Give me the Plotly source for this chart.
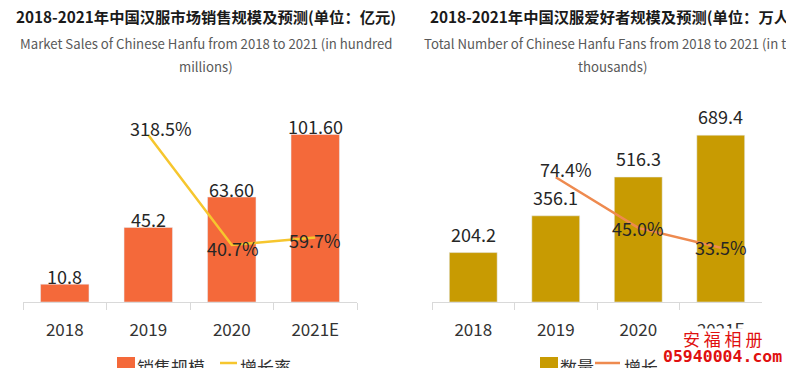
import plotly.graph_objects as go

# ---------------- data ----------------
years = ["2018", "2019", "2020", "2021E"]
sales = [10.8, 45.2, 63.60, 101.60]
sales_labels = ["10.8", "45.2", "63.60", "101.60"]
sales_growth_years = ["2019", "2020", "2021E"]
sales_growth = [318.5, 40.7, 59.7]
sales_growth_labels = ["318.5%", "40.7%", "59.7%"]

fans = [204.2, 356.1, 516.3, 689.4]
fans_labels = ["204.2", "356.1", "516.3", "689.4"]
fans_growth_years = ["2019", "2020", "2021E"]
fans_growth = [74.4, 45.0, 33.5]
fans_growth_labels = ["74.4%", "45.0%", "33.5%"]

left_title = "2018-2021年中国汉服市场销售规模及预测(单位：亿元)"
left_sub1 = "Market Sales of Chinese Hanfu from 2018 to 2021 (in hundred"
left_sub2 = "millions)"
right_title = "2018-2021年中国汉服爱好者规模及预测(单位：万人)"
right_sub1 = "Total Number of Chinese Hanfu Fans from 2018 to 2021 (in ten"
right_sub2 = "thousands)"
left_legend = ["销售规模", "增长率"]
right_legend = ["数量", "增长率"]

# ---------------- style ----------------
W, H = 786, 368
FONT = "Noto Sans CJK SC"
C_BAR_L = "#F4693A"
C_LINE_L = "#F6C62E"
C_BAR_R = "#C89B02"
C_LINE_R = "#EE8A4F"
C_TXT = "#262626"
AX = "#D9D9D9"

def px_x(p):
    return p / W

def px_y(p):
    return 1 - p / H

def cat_idx(yr):
    # category axis position (index) of a year label
    return years.index(yr)

fig = go.Figure()

fig.add_trace(go.Bar(x=years, y=sales, marker_color=C_BAR_L, width=0.58,
                     xaxis="x", yaxis="y", showlegend=False, hoverinfo="skip"))
fig.add_trace(go.Scatter(x=sales_growth_years, y=sales_growth, mode="lines",
                         line=dict(color=C_LINE_L, width=2.5),
                         xaxis="x", yaxis="y2", showlegend=False, hoverinfo="skip"))
fig.add_trace(go.Bar(x=years, y=fans, marker_color=C_BAR_R, width=0.58,
                     xaxis="x2", yaxis="y3", showlegend=False, hoverinfo="skip"))
fig.add_trace(go.Scatter(x=fans_growth_years, y=fans_growth, mode="lines",
                         line=dict(color=C_LINE_R, width=2.5),
                         xaxis="x2", yaxis="y4", showlegend=False, hoverinfo="skip"))

ydom = [px_y(302), px_y(90)]
xcommon = dict(type="category", showline=True, linecolor=AX, linewidth=1,
               ticks="outside", tickson="boundaries", ticklen=7, tickcolor=AX,
               showgrid=False, zeroline=False, ticklabelstandoff=13,
               tickfont=dict(size=17, color="#333333", family=FONT),
               categoryorder="array", categoryarray=years,
               range=[-0.5, len(years) - 0.5], autorange=False, fixedrange=True)
fig.update_layout(
    width=W, height=H, margin=dict(l=0, r=0, t=0, b=0),
    paper_bgcolor="white", plot_bgcolor="white",
    font=dict(family=FONT, color=C_TXT),
    xaxis=dict(domain=[px_x(23), px_x(357)], anchor="y", **xcommon),
    yaxis=dict(domain=ydom, range=[0, 128.5], visible=False, anchor="x"),
    yaxis2=dict(range=[-103, 432], overlaying="y", anchor="x", visible=False),
    xaxis2=dict(domain=[px_x(432), px_x(762)], anchor="y3", **xcommon),
    yaxis3=dict(domain=ydom, range=[0, 876], visible=False, anchor="x2"),
    yaxis4=dict(range=[2, 125], overlaying="y3", anchor="x2", visible=False),
)

ann = []
# bar value labels
for yr, v, t in zip(years, sales, sales_labels):
    ann.append(dict(x=cat_idx(yr), y=v, xref="x", yref="y", text=t, showarrow=False,
                    yanchor="middle", yshift=8, font=dict(size=18, color=C_TXT)))
for yr, v, t in zip(years, fans, fans_labels):
    ann.append(dict(x=cat_idx(yr), y=v, xref="x2", yref="y3", text=t, showarrow=False,
                    yanchor="middle", yshift=19, font=dict(size=18, color=C_TXT)))
# growth labels
l_shift = [(13, 7), (1, -3), (0, -2)]
for yr, v, t, s in zip(sales_growth_years, sales_growth, sales_growth_labels, l_shift):
    ann.append(dict(x=cat_idx(yr), y=v, xref="x", yref="y2", text=t, showarrow=False,
                    xshift=s[0], yshift=s[1], font=dict(size=18, color=C_TXT)))
r_shift = [(10, 8), (0, 0), (0, 1)]
for yr, v, t, s in zip(fans_growth_years, fans_growth, fans_growth_labels, r_shift):
    ann.append(dict(x=cat_idx(yr), y=v, xref="x2", yref="y4", text=t, showarrow=False,
                    xshift=s[0], yshift=s[1], font=dict(size=18, color=C_TXT)))

# titles
def paper_text(x, y, text, size, color, bold=False, xanchor="center", family=FONT):
    return dict(x=px_x(x), y=px_y(y), xref="paper", yref="paper",
                text=("<b>%s</b>" % text) if bold else text, showarrow=False,
                xanchor=xanchor, yanchor="middle",
                font=dict(size=size, color=color, family=family))

ann.append(paper_text(206, 16, left_title, 15.3, "#1a1a1a", bold=True))
ann.append(paper_text(206, 43, left_sub1, 13.2, "#595959"))
ann.append(paper_text(206, 66, left_sub2, 13.2, "#595959"))
ann.append(paper_text(612, 16, right_title, 15.3, "#1a1a1a", bold=True))
ann.append(paper_text(612, 43, right_sub1, 13.2, "#595959"))
ann.append(paper_text(612, 66, right_sub2, 13.2, "#595959"))

# manual legends
shapes = []
def legend_items(x_sw, x_t1, x_ln0, x_ln1, x_t2, names, c_bar, c_line):
    shapes.append(dict(type="rect", xref="paper", yref="paper",
                       x0=px_x(x_sw), x1=px_x(x_sw + 18), y0=px_y(375), y1=px_y(357),
                       fillcolor=c_bar, line=dict(width=0)))
    shapes.append(dict(type="line", xref="paper", yref="paper",
                       x0=px_x(x_ln0), x1=px_x(x_ln1), y0=px_y(363), y1=px_y(363),
                       line=dict(color=c_line, width=2.5)))
    ann.append(paper_text(x_t1, 366, names[0], 17, "#333333", xanchor="left"))
    ann.append(paper_text(x_t2, 366, names[1], 17, "#333333", xanchor="left"))

legend_items(117, 135, 220, 237, 238, left_legend, C_BAR_L, C_LINE_L)
legend_items(540, 558, 595, 620, 622, right_legend, C_BAR_R, C_LINE_R)

# watermark overlay
ann.append(dict(x=px_x(657), y=px_y(328), xref="paper", yref="paper", text=" ",
                showarrow=False, xanchor="left", yanchor="top", width=140, height=50,
                bgcolor="white", borderpad=0))
ann.append(paper_text(722, 338, "安 福 相 册", 17, "#E01010"))
ann.append(paper_text(722, 356, "05940004.com", 16.5, "#E01010", bold=True,
                      family="DejaVu Sans Mono"))

fig.update_layout(annotations=ann, shapes=shapes)
fig.write_html("out.html", config={"displayModeBar": False},
               post_script="document.body.style.margin='0';document.body.style.overflow='hidden';")
